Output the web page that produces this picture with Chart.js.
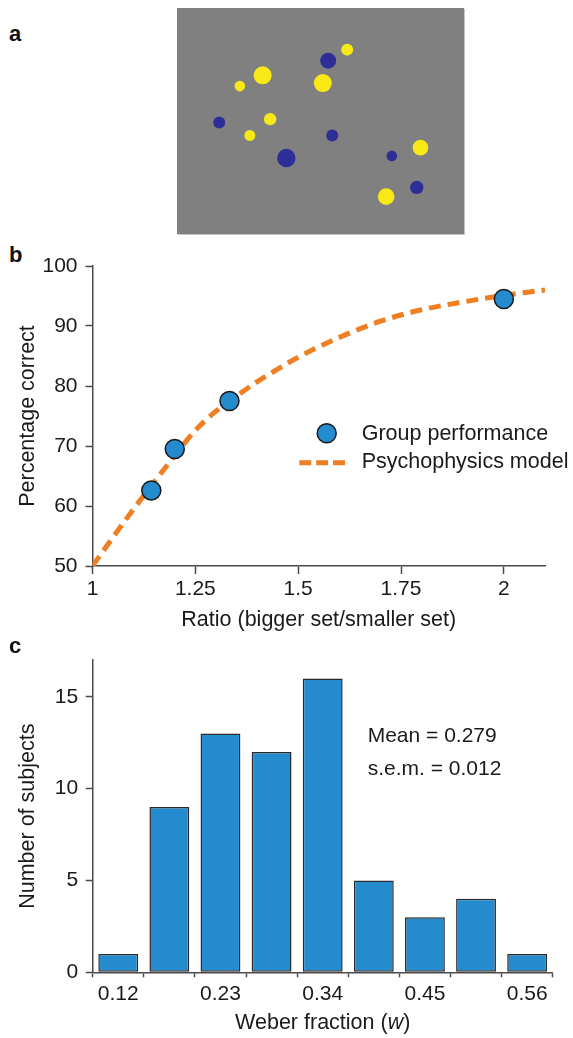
<!DOCTYPE html>
<html>
<head>
<meta charset="utf-8">
<script src="https://cdn.jsdelivr.net/npm/chart.js@4.4.0/dist/chart.umd.min.js"></script>
<style>
  body { margin: 0; background: #fff; }
  #page { position: relative; width: 573px; height: 1038px; overflow: hidden; font-family: "Liberation Sans", Arial, sans-serif; }
  .panel { position: absolute; }
  .tag { position: absolute; font-weight: bold; font-size: 22px; line-height: 22px; color: #111; }
  #dots { background: #808080; box-shadow: 1px 1px 0 #c4c4c4; }
</style>
</head>
<body>
<div id="page">
  <div class="tag" style="left:9px;top:23px">a</div>
  <div class="panel" style="left:177px;top:8px"><canvas id="dots" width="287" height="226"></canvas></div>
  <div class="tag" style="left:9px;top:244px">b</div>
  <div class="panel" style="left:0;top:240px"><canvas id="ratio" width="573" height="400"></canvas></div>
  <div class="tag" style="left:9px;top:635px">c</div>
  <div class="panel" style="left:0;top:640px"><canvas id="weber" width="573" height="398"></canvas></div>
</div>
<script>
// panel a: dots of the stimulus, x/y from the lower-left corner of the grey field, r = radius
const yellowX = [172, 81.7, 57.3, 146, 89.7, 68, 250.3, 213.7];
const yellowY = [190.7, 162.7, 151, 154.3, 115, 97.3, 84, 30.7];
const yellowR = [6, 9, 5.3, 9, 6.2, 5.5, 7.8, 8.3];
const blueX = [151.7, 35.3, 156, 107, 219.7, 246.3];
const blueY = [178.7, 111.3, 97.3, 72.7, 75, 40.7];
const blueR = [8, 6, 6, 9.2, 5.3, 6.7];

// panel b
const ratios = [1.143, 1.2, 1.333, 2];
const groupCorrect = [62.6, 69.5, 77.5, 94.5];
const modelRatio = [1, 1.05, 1.1, 1.15, 1.2, 1.25, 1.3, 1.35, 1.4, 1.45, 1.5, 1.6, 1.7, 1.8, 1.9, 2, 2.1];
const modelCorrect = [50, 54.8, 59.5, 64.0, 68.4, 72.6, 75.8, 78.3, 80.7, 82.8, 84.8, 88.1, 90.8, 92.7, 94.0, 95.1, 96.0];

// panel c
const weberTicks = ['0.12', '', '0.23', '', '0.34', '', '0.45', '', '0.56'];
const subjectCounts = [1, 9, 13, 12, 16, 5, 3, 4, 1];

const FONT = '"Liberation Sans", Arial, sans-serif';
const INK = '#1a1a1a';
const AXIS = '#4a4a4a';
const BLUE = '#248bcf';
const ORANGE = '#ef7f22';

Chart.defaults.font.family = FONT;
Chart.defaults.color = INK;

const yellowDots = yellowX.map((x, i) => ({ x, y: yellowY[i], r: yellowR[i] }));
const blueDots = blueX.map((x, i) => ({ x, y: blueY[i], r: blueR[i] }));

new Chart(document.getElementById('dots'), {
  type: 'bubble',
  data: {
    datasets: [
      { data: yellowDots, backgroundColor: '#f8e816', borderWidth: 0 },
      { data: blueDots, backgroundColor: '#2e2f96', borderWidth: 0 },
    ],
  },
  options: {
    responsive: false,
    animation: false,
    layout: { padding: 0 },
    plugins: { legend: { display: false }, tooltip: { enabled: false } },
    scales: {
      x: { display: false, min: 0, max: 287 },
      y: { display: false, min: 0, max: 226 },
    },
  },
});

// legend for panel b, drawn inside the plot
const legendB = {
  id: 'legendB',
  afterDraw(chart) {
    const ctx = chart.ctx;
    ctx.save();
    ctx.beginPath();
    ctx.arc(326.7, 193.3, 9.5, 0, Math.PI * 2);
    ctx.fillStyle = BLUE;
    ctx.fill();
    ctx.lineWidth = 1.5;
    ctx.strokeStyle = INK;
    ctx.stroke();

    ctx.beginPath();
    ctx.setLineDash([12, 4.85]);
    ctx.lineWidth = 5;
    ctx.strokeStyle = ORANGE;
    ctx.moveTo(299.3, 222.7);
    ctx.lineTo(345, 222.7);
    ctx.stroke();
    ctx.setLineDash([]);

    ctx.fillStyle = INK;
    ctx.font = '21.5px ' + FONT;
    ctx.textBaseline = 'middle';
    ctx.fillText('Group performance', 361.7, 194);
    ctx.fillText('Psychophysics model', 361.7, 222);
    ctx.restore();
  },
};

new Chart(document.getElementById('ratio'), {
  type: 'scatter',
  data: {
    datasets: [
      {
        label: 'Group performance',
        data: ratios.map((r, i) => ({ x: r, y: groupCorrect[i] })),
        pointRadius: 9.5,
        pointBackgroundColor: BLUE,
        pointBorderColor: INK,
        pointBorderWidth: 1.5,
      },
      {
        type: 'line',
        label: 'Psychophysics model',
        data: modelRatio.map((r, i) => ({ x: r, y: modelCorrect[i] })),
        borderColor: ORANGE,
        borderWidth: 5,
        borderDash: [12, 7],
        borderCapStyle: 'butt',
        pointRadius: 0,
        fill: false,
        cubicInterpolationMode: 'monotone',
      },
    ],
  },
  options: {
    responsive: false,
    animation: false,
    layout: { padding: { top: 26, right: 28, left: 0, bottom: 0 } },
    plugins: { legend: { display: false }, tooltip: { enabled: false } },
    scales: {
      x: {
        type: 'linear',
        min: 1,
        max: 2.1,
        afterFit: (s) => { s.height = 74; },
        ticks: {
          stepSize: 0.25,
          includeBounds: false,
          padding: 3,
          font: { size: 21 },
          callback: (v) => String(Number(v.toFixed(2))),
        },
        grid: { drawOnChartArea: false, tickLength: 8, tickColor: AXIS, tickWidth: 1.5 },
        border: { color: AXIS, width: 1.5 },
        title: { display: true, text: 'Ratio (bigger set/smaller set)', font: { size: 21.5 }, padding: { top: 0, bottom: 7 } },
      },
      y: {
        min: 50,
        max: 100,
        afterFit: (s) => { s.width = 92.5; },
        ticks: { stepSize: 10, includeBounds: false, padding: 8, font: { size: 21 } },
        grid: { drawOnChartArea: false, tickLength: 7, tickColor: AXIS, tickWidth: 1.5 },
        border: { color: AXIS, width: 1.5 },
        title: { display: true, text: 'Percentage correct', font: { size: 21.5 }, padding: { top: 15, bottom: 0 } },
      },
    },
  },
  plugins: [legendB],
});

// stats note and x title (italic w) for panel c
const notesC = {
  id: 'notesC',
  afterDraw(chart) {
    const { ctx, chartArea } = chart;
    ctx.save();
    ctx.fillStyle = INK;
    ctx.textBaseline = 'middle';
    ctx.font = '21px ' + FONT;
    ctx.fillText('Mean = 0.279', 367.7, 96.7);
    ctx.fillText('s.e.m. = 0.012', 367.7, 129.2);

    const parts = [['Weber fraction (', ''], ['w', 'italic '], [')', '']];
    let total = 0;
    parts.forEach(([t, style]) => {
      ctx.font = style + '21.5px ' + FONT;
      total += ctx.measureText(t).width;
    });
    let x = (chartArea.left + chartArea.right) / 2 - total / 2;
    parts.forEach(([t, style]) => {
      ctx.font = style + '21.5px ' + FONT;
      ctx.fillText(t, x, 383);
      x += ctx.measureText(t).width;
    });
    ctx.restore();
  },
};

new Chart(document.getElementById('weber'), {
  type: 'bar',
  data: {
    labels: weberTicks,
    datasets: [{
      data: subjectCounts,
      backgroundColor: BLUE,
      borderColor: '#2a2a2a',
      borderWidth: 1.5,
      borderSkipped: false,
      barPercentage: 0.78,
      categoryPercentage: 1,
    }],
  },
  options: {
    responsive: false,
    animation: false,
    layout: { padding: { top: 15, right: 20.3, left: 0, bottom: 0 } },
    plugins: { legend: { display: false }, tooltip: { enabled: false } },
    scales: {
      x: {
        afterFit: (s) => { s.height = 65.7; },
        ticks: { padding: 4, font: { size: 21 }, autoSkip: false, maxRotation: 0 },
        grid: { drawOnChartArea: false, offset: true, tickLength: 5, tickColor: AXIS, tickWidth: 1.5 },
        border: { color: AXIS, width: 1.5 },
      },
      y: {
        min: 0,
        max: 17,
        afterFit: (s) => { s.width = 92.7; },
        ticks: { stepSize: 5, includeBounds: false, padding: 7.5, font: { size: 21 } },
        grid: { drawOnChartArea: false, tickLength: 7, tickColor: AXIS, tickWidth: 1.5 },
        border: { color: AXIS, width: 1.5 },
        title: { display: true, text: 'Number of subjects', font: { size: 21.5 }, padding: { top: 15, bottom: 0 } },
      },
    },
  },
  plugins: [notesC],
});
</script>
</body>
</html>
